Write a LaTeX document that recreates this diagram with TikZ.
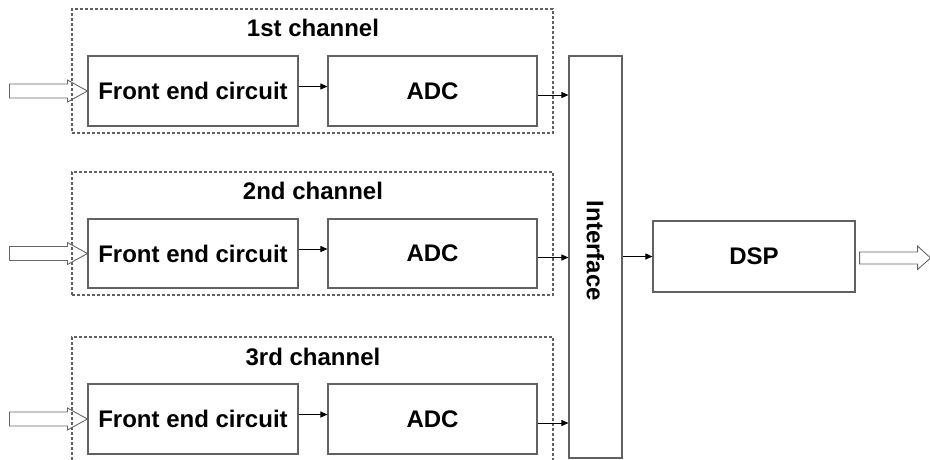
\documentclass[tikz,border=0pt]{standalone}
\usepackage{fontspec}
\setmainfont{Liberation Sans}
\usetikzlibrary{arrows.meta,calc}
\begin{document}
\begin{tikzpicture}[x=1pt,y=-1pt,
  blk/.style={draw=black!62, line width=1.1pt, inner sep=0pt, font=\bfseries\fontsize{24}{28}\selectfont},
  chan/.style={draw=black!62, line width=1.2pt, dash pattern=on 3pt off 2pt, inner sep=0pt, minimum width=481pt},
  ttl/.style={inner sep=0pt, font=\bfseries\fontsize{24}{28}\selectfont},
  conn/.style={draw=black, line width=0.9pt, -{Triangle[length=7pt,width=6pt]}},
  hollow/.style={draw=black!60, line width=0.9pt, line join=miter}]
\useasboundingbox (0,0) rectangle (930,459);
\clip (0,0) rectangle (930,459);

% channel frames
\node[chan, minimum height=124pt] (ch1) at (312.5,71) {};
\node[chan, minimum height=123pt] (ch2) at (312.5,233.5) {};
\node[chan, minimum height=143pt] (ch3) at (312.5,408.5) {};

\node[ttl] (t1) at (313,28) {1st channel};
\node[ttl] (t2) at (313,191) {2nd channel};
\node[ttl] (t3) at (313,357) {3rd channel};

% blocks
\node[blk, minimum width=210pt, minimum height=70pt] (fe1) at (193,91) {Front end circuit};
\node[blk, minimum width=209pt, minimum height=70pt] (adc1) at (432.5,91) {ADC};
\node[blk, minimum width=210pt, minimum height=69pt] (fe2) at (193,253.5) {Front end circuit};
\node[blk, minimum width=209pt, minimum height=69pt] (adc2) at (432.5,253.5) {ADC};
\node[blk, minimum width=210pt, minimum height=70pt] (fe3) at (193,419) {Front end circuit};
\node[blk, minimum width=209pt, minimum height=70pt] (adc3) at (432.5,419) {ADC};

\node[blk, minimum width=53pt, minimum height=402pt] (int) at (595.5,257) {};
\node[ttl, rotate=-90] (intl) at (595.5,251) {Interface};

\node[blk, minimum width=202pt, minimum height=71pt] (dsp) at (754,256.5) {DSP};

% connectors
\foreach \i in {1,2,3}{
  \draw[conn] ($(fe\i.east)+(0,-4.5)$) -- ($(adc\i.west)+(0,-4.5)$);
  \draw[conn] ($(adc\i.east)+(0,4)$) -- ($(adc\i.east -| int.west)+(0,4)$);
  % hollow input arrows
  \draw[hollow, shift={(fe\i.west)}] (-78,-7) -- (-20,-7) -- (-20,-11) -- (0,0) -- (-20,11) -- (-20,7) -- (-78,7) -- cycle;
}
\draw[conn] (int.east |- dsp.west) -- (dsp.west);

% hollow output arrow
\draw[hollow, shift={(dsp.east)}] (4,-4.5) -- (62,-4.5) -- (62,-10.5) -- (75,1.5) -- (62,13) -- (62,7.5) -- (4,7.5) -- cycle;
\end{tikzpicture}
\end{document}
